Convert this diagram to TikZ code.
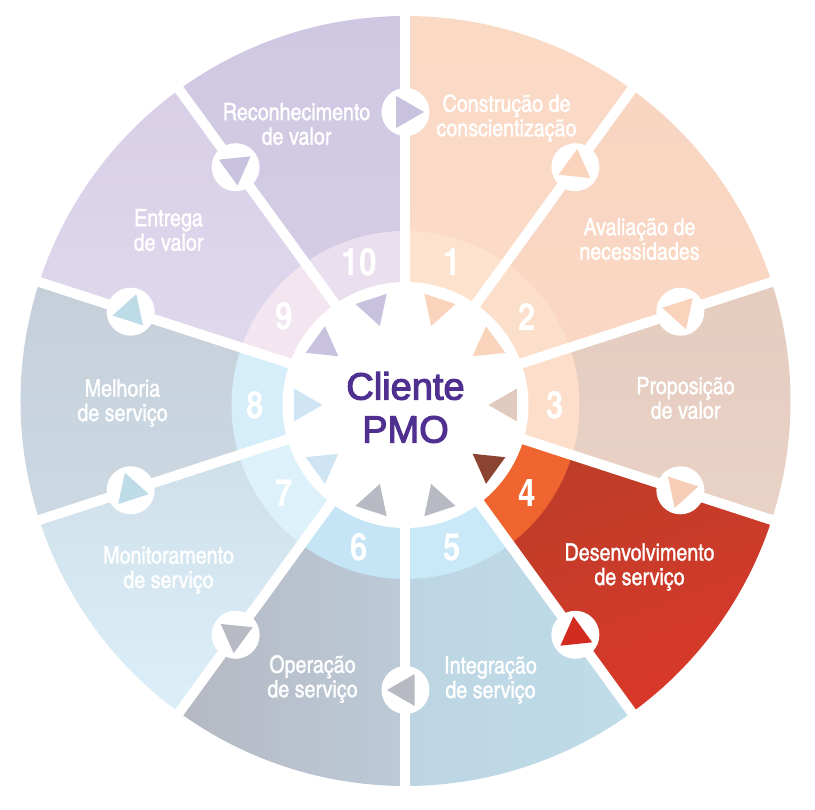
\documentclass[tikz,border=0pt]{standalone}
\usepackage{fontspec}
\setmainfont{Liberation Sans}
\newfontfamily\wheelfont[FakeBold=1.2]{TeX Gyre Heros Cn}
\newfontfamily\numfont{TeX Gyre Heros Cn}
\newfontfamily\hubfont[FakeBold=3]{Liberation Sans}
\usetikzlibrary{shapes.geometric}

\definecolor{pmo}{HTML}{4F2F90}
\definecolor{s1a}{HTML}{FAD9C5}\definecolor{s1b}{HTML}{FBDCC9}
\definecolor{s2a}{HTML}{F8D5C1}\definecolor{s2b}{HTML}{F9D8C5}
\definecolor{s3a}{HTML}{E4CCBF}\definecolor{s3b}{HTML}{E9D3C6}
\definecolor{s4a}{HTML}{B63F29}\definecolor{s4b}{HTML}{D9382A}
\definecolor{s5a}{HTML}{BDD5E2}\definecolor{s5b}{HTML}{BFDCE9}
\definecolor{s6a}{HTML}{B5B8C2}\definecolor{s6b}{HTML}{BCCBD8}
\definecolor{s7a}{HTML}{CCDCE6}\definecolor{s7b}{HTML}{DCEFF8}
\definecolor{s8a}{HTML}{C5CFDA}\definecolor{s8b}{HTML}{CCD9E3}
\definecolor{s9a}{HTML}{D8CFE6}\definecolor{s9b}{HTML}{E1DAEE}
\definecolor{s10a}{HTML}{D0C8E2}\definecolor{s10b}{HTML}{D5CEE6}
\definecolor{r1}{HTML}{FDE3CD}\definecolor{r2}{HTML}{FCDFCB}
\definecolor{r3}{HTML}{FCDECB}\definecolor{r4}{HTML}{F0652F}
\definecolor{r5}{HTML}{C9E9F9}\definecolor{r6}{HTML}{C5E5F6}
\definecolor{r7}{HTML}{DDF1FB}\definecolor{r8}{HTML}{D5EEFA}
\definecolor{r9}{HTML}{F4E6F1}\definecolor{r10}{HTML}{EADFEF}
\definecolor{peach}{HTML}{FAD3BC}
\definecolor{sand}{HTML}{DFCABD}
\definecolor{brick}{HTML}{8B4431}
\definecolor{slate}{HTML}{B7BAC3}
\definecolor{sky}{HTML}{CFE5F3}
\definecolor{lilac}{HTML}{C9C2DF}
\definecolor{apricot}{HTML}{F6CDB7}
\definecolor{scarlet}{HTML}{D32B20}
\definecolor{aqua}{HTML}{BDDCE8}

\begin{document}
\begin{tikzpicture}[x=1pt,y=1pt]
	\tikzset{divider/.style={white,line width=10pt},
		lbl/.style={text=white,align=center,font=\wheelfont\fontsize{24}{24.5}\selectfont},
		num/.style={text=white,font=\numfont\bfseries\fontsize{38}{38}\selectfont},
		tri/.style={regular polygon,regular polygon sides=3,inner sep=0pt,minimum size=38pt},
		markcirc/.style={circle,fill=white,inner sep=0pt,minimum size=48pt}}
	\useasboundingbox (-405.5,-409) rectangle (409.5,401);
	\foreach \k/\ca/\cb/\sa in {1/s1a/s1b/0,2/s2a/s2b/0,3/s3a/s3b/0,4/s4a/s4b/20,5/s5a/s5b/90,
		6/s6a/s6b/90,7/s7a/s7b/0,8/s8a/s8b/0,9/s9a/s9b/0,10/s10a/s10b/0}
		\shade[top color=\ca,bottom color=\cb,shading angle=\sa] (0,0) -- ({126-36*\k}:385pt)
			arc[start angle={126-36*\k},end angle={90-36*\k},radius=385pt] -- cycle;
	\begin{scope}[yshift=-4pt]
		\foreach \k in {1,...,10}
			\fill[r\k] (0,0) -- ({126-36*\k}:174pt)
				arc[start angle={126-36*\k},end angle={90-36*\k},radius=174pt] -- cycle;
		\fill[white] (0,0) circle[radius=123pt];
	\end{scope}
	\foreach \a in {90,54,...,-252}
		\draw[divider] (0,0) -- (\a:386pt);
	\begin{scope}[yshift=-4pt]
		\foreach \k/\c in {1/peach,2/peach,3/sand,4/brick,5/slate,6/slate,7/sky,8/sky,9/lilac,10/lilac}
			\node[tri,fill=\c,rotate={198-36*\k}] (t\k) at ({108-36*\k}:102pt) {};
		\foreach \k in {1,...,10}
			\node[num] (n\k) at ({108-36*\k}:150pt) {\k};
		\node[text=pmo,align=center,font=\hubfont\fontsize{38}{43}\selectfont] (cliente) at (0,-2.5) {Cliente\\PMO};
	\end{scope}
	\foreach \k/\c in {0/lilac,1/peach,2/peach,3/apricot,4/scarlet,5/slate,6/slate,7/aqua,8/aqua,9/lilac}{
		\node[markcirc] (m\k) at ({90-36*\k}:289pt) {};
		\node[tri,fill=\c,rotate={-90-36*\k},minimum size=37pt] (p\k) at (m\k) {};
	}
	\foreach \k/\x/\y/\t in {1/101/283/{Construção de\\conscientização},
		2/234/162/{Avaliação de\\necessidades},
		3/280/3/{Proposição\\de valor},
		4/234/-166/{Desenvolvimento\\de serviço},
		5/85/-279/{Integração\\de serviço},
		6/-93/-278/{Operação\\de serviço},
		7/-237/-169/{Monitoramento\\de serviço},
		8/-283/-2/{Melhoria\\de serviço},
		9/-237/171/{Entrega\\de valor},
		10/-109/277/{Reconhecimento\\de valor}}
		\node[lbl] (l\k) at (\x,\y) {\t};
\end{tikzpicture}
\end{document}
